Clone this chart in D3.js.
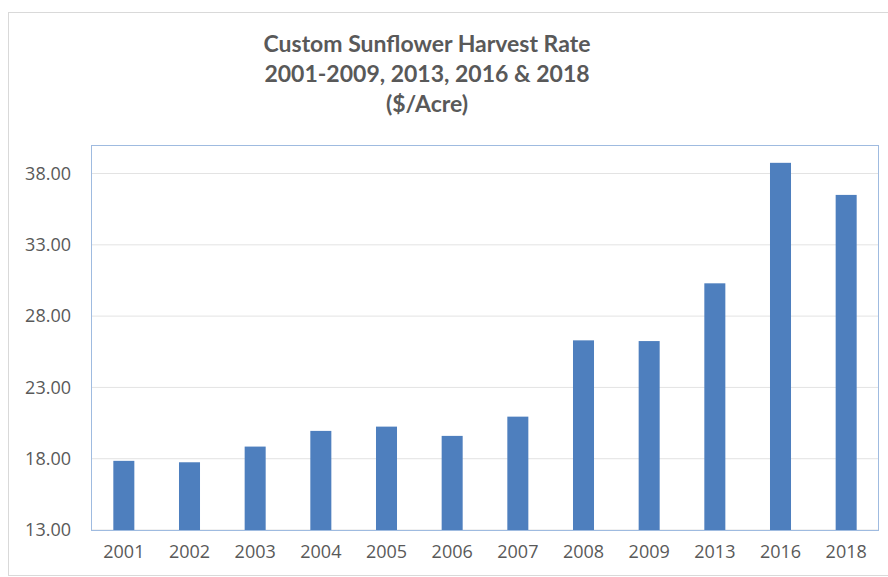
<!DOCTYPE html>
<html lang="en">
<head>
  <meta charset="UTF-8" />
  <title>Custom Sunflower Harvest Rate</title>
  <style>
    body { margin: 0; background: #fff; }
    .chart text { fill: #595959; }
    .title { font-family: Lato, "Open Sans", sans-serif; font-weight: bold; font-size: 23px; }
    .tick text { font-family: "Open Sans", sans-serif; font-size: 18px; }
  </style>
</head>
<body>
  <div class="chart"></div>
  <script src="https://cdn.jsdelivr.net/npm/d3@7"></script>
  <script>
    var years = ["2001", "2002", "2003", "2004", "2005", "2006",
      "2007", "2008", "2009", "2013", "2016", "2018"];
    var rates = [17.85, 17.75, 18.85, 19.95, 20.25, 19.6,
      20.95, 26.3, 26.25, 30.3, 38.75, 36.5];
    var yTicks = [13, 18, 23, 28, 33, 38];
    var titleLines = ["Custom Sunflower Harvest Rate",
      "2001-2009, 2013, 2016 & 2018", "($/Acre)"];

    var w = 888, h = 577;
    var plot = { left: 91, right: 879, top: 145, bottom: 530 };

    var svg = d3.select(".chart").append("svg")
      .attr("width", w)
      .attr("height", h);

    // outer chart border (runs off the right edge)
    svg.append("rect")
      .attr("x", 8.5)
      .attr("y", 12.5)
      .attr("width", 900)
      .attr("height", 563)
      .attr("fill", "none")
      .attr("stroke", "#d9d9d9");

    svg.append("g")
      .selectAll("text")
      .data(titleLines)
      .enter()
      .append("text")
      .attr("class", "title")
      .attr("x", 427)
      .attr("y", function(d, i) { return 52 + i * 30; })
      .attr("text-anchor", "middle")
      .text(function(d) { return d; });

    var x = d3.scaleBand()
      .domain(years)
      .range([plot.left, plot.right])
      .paddingInner(0.68)
      .paddingOuter(0.34);

    var y = d3.scaleLinear()
      .domain([13, 40])
      .range([plot.bottom, plot.top]);

    // gridlines
    svg.append("g")
      .selectAll("line")
      .data(yTicks)
      .enter()
      .append("line")
      .attr("x1", plot.left)
      .attr("x2", plot.right)
      .attr("y1", function(d) { return y(d); })
      .attr("y2", function(d) { return y(d); })
      .attr("stroke", "#e3e3e3")
      .attr("stroke-width", 1);

    svg.selectAll("rect.bar")
      .data(rates)
      .enter()
      .append("rect")
      .attr("class", "bar")
      .attr("x", function(d, i) { return x(years[i]); })
      .attr("y", function(d) { return y(d); })
      .attr("width", x.bandwidth())
      .attr("height", function(d) { return y(13) - y(d); })
      .attr("fill", "#4e7fbe");

    // plot area frame
    svg.append("rect")
      .attr("x", plot.left + 0.5)
      .attr("y", plot.top + 0.5)
      .attr("width", plot.right - plot.left - 1)
      .attr("height", plot.bottom - plot.top)
      .attr("fill", "none")
      .attr("stroke", "#9fbbe0");

    var yAxis = svg.append("g")
      .attr("transform", "translate(" + plot.left + ",0)")
      .call(d3.axisLeft(y).tickValues(yTicks).tickSize(0).tickPadding(20)
        .tickFormat(d3.format(".2f")));
    yAxis.select(".domain").remove();

    var xAxis = svg.append("g")
      .attr("transform", "translate(0," + plot.bottom + ")")
      .call(d3.axisBottom(x).tickSize(0).tickPadding(15));
    xAxis.select(".domain").remove();
  </script>
</body>
</html>
